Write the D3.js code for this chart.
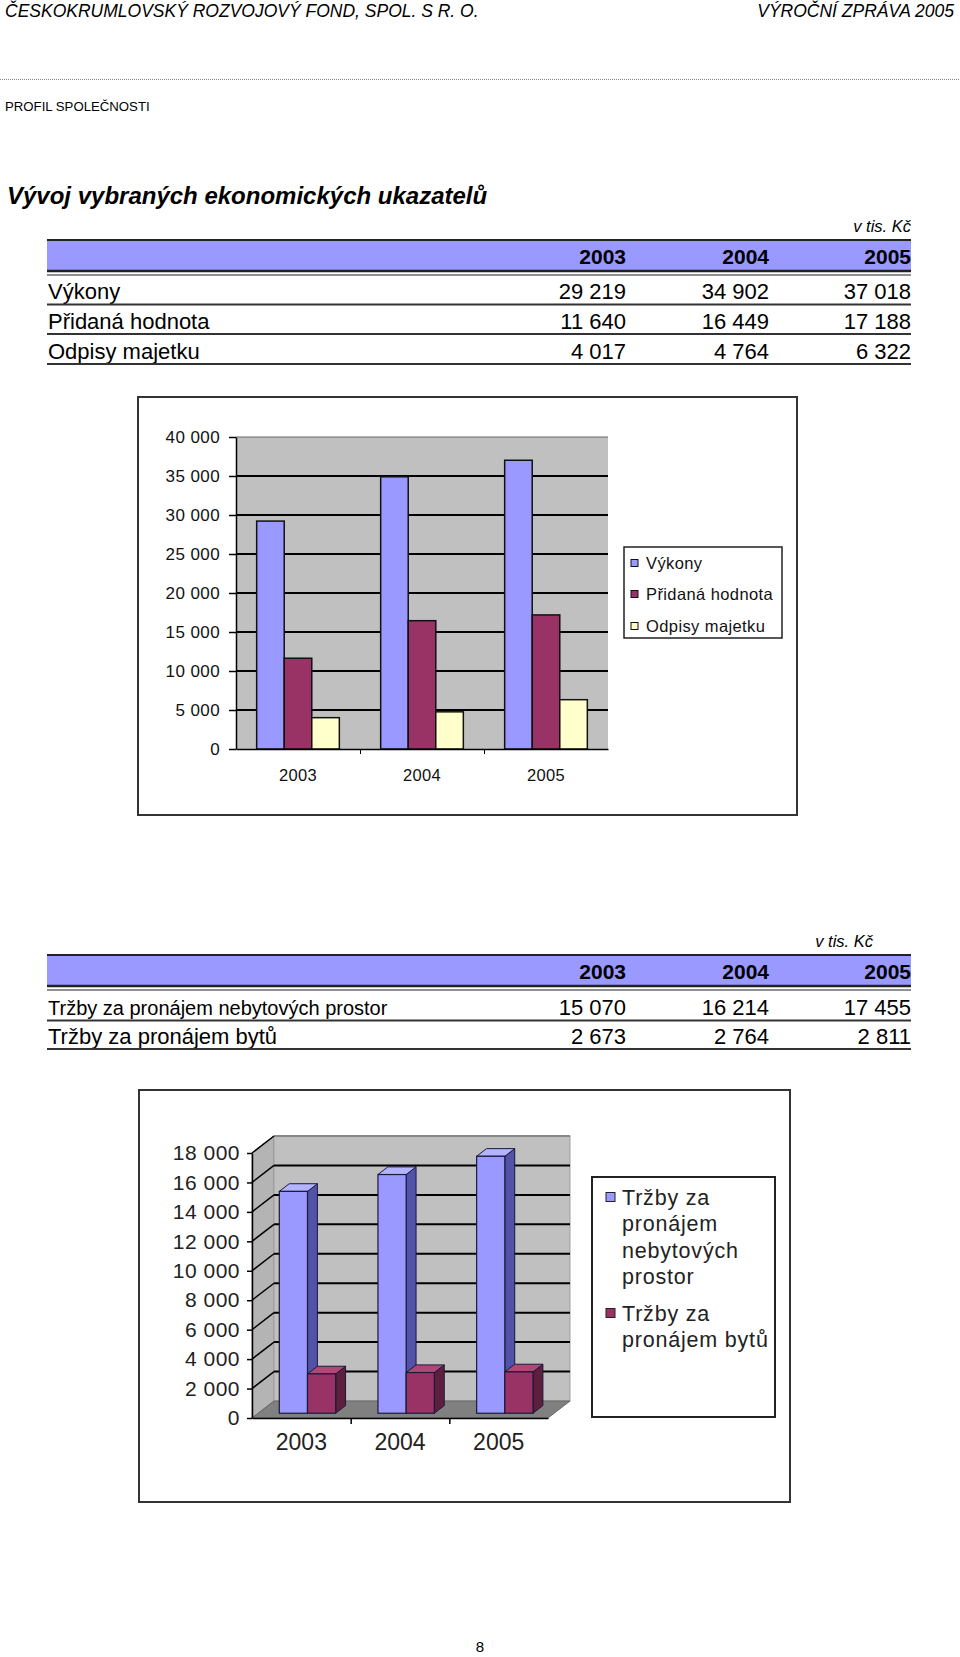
<!DOCTYPE html>
<html>
<head>
<meta charset="utf-8">
<script src="https://cdn.jsdelivr.net/npm/d3@7"></script>
<style>
body { margin: 0; background: #fff; }
svg { display: block; font-family: "Liberation Sans", Arial, sans-serif; }
</style>
</head>
<body>
<script>
var years = ["2003", "2004", "2005"];
var names1 = ["Výkony", "Přidaná hodnota", "Odpisy majetku"];
var vykony = [29219, 34902, 37018];
var pridana = [11640, 16449, 17188];
var odpisy = [4017, 4764, 6322];
var ticks1 = [0, 5000, 10000, 15000, 20000, 25000, 30000, 35000, 40000];

var names2 = ["Tržby za pronájem nebytových prostor", "Tržby za pronájem bytů"];
var nebytove = [15070, 16214, 17455];
var byty = [2673, 2764, 2811];
var ticks2 = [0, 2000, 4000, 6000, 8000, 10000, 12000, 14000, 16000, 18000];
var legend2Lines = [["Tržby za", "pronájem", "nebytových", "prostor"], ["Tržby za", "pronájem bytů"]];

var colors1 = ["#9999ff", "#993366", "#ffffcc"];
var colors2 = [
    { front: "#9999ff", side: "#5252a8", top: "#b3b3ff" },
    { front: "#993366", side: "#5e1f3f", top: "#b04876" }
];

var cz = d3.formatLocale({ decimal: ",", thousands: " ", grouping: [3], currency: ["", " Kč"] });
var fmt = cz.format(",d");

var svg = d3.select("body").append("svg")
    .attr("width", 960).attr("height", 1657)
    .attr("xmlns", "http://www.w3.org/2000/svg");

// page header
svg.append("text").attr("x", 5).attr("y", 17)
    .style("font-size", "17.5px").style("font-style", "italic")
    .text("ČESKOKRUMLOVSKÝ ROZVOJOVÝ FOND, SPOL. S R. O.");
svg.append("text").attr("x", 954).attr("y", 17).attr("text-anchor", "end")
    .style("font-size", "17.5px").style("font-style", "italic")
    .text("VÝROČNÍ ZPRÁVA 2005");
svg.append("line").attr("x1", 0).attr("x2", 960).attr("y1", 79.5).attr("y2", 79.5)
    .attr("stroke", "#888").attr("stroke-dasharray", "1,1");
svg.append("text").attr("x", 5).attr("y", 110.5).style("font-size", "13.2px")
    .text("PROFIL SPOLEČNOSTI");
svg.append("text").attr("x", 7).attr("y", 204)
    .style("font-size", "24px").style("font-weight", "bold").style("font-style", "italic")
    .text("Vývoj vybraných ekonomických ukazatelů");

// tables
var colX = [626, 769, 911];

function drawTable(top, unitX, rows, lineYs) {
    var g = svg.append("g");
    g.append("text").attr("x", unitX).attr("y", top - 8)
        .attr("text-anchor", "end").style("font-size", "16.5px").style("font-style", "italic")
        .text("v tis. Kč");
    g.append("rect").attr("x", 47).attr("y", top).attr("width", 911 - 47).attr("height", 30)
        .attr("fill", "#9999ff");
    g.append("line").attr("x1", 47).attr("x2", 911).attr("y1", top).attr("y2", top)
        .attr("stroke", "#222").attr("stroke-width", 2);
    g.append("line").attr("x1", 47).attr("x2", 911).attr("y1", top + 31).attr("y2", top + 31)
        .attr("stroke", "#222").attr("stroke-width", 2.5);
    g.append("line").attr("x1", 47).attr("x2", 911).attr("y1", top + 35).attr("y2", top + 35)
        .attr("stroke", "#222").attr("stroke-width", 1.2);
    g.selectAll(".yr").data(years).enter().append("text")
        .attr("x", function(d, i) { return colX[i]; }).attr("y", top + 23.5)
        .attr("text-anchor", "end").style("font-size", "21px").style("font-weight", "bold")
        .text(function(d) { return d; });
    rows.forEach(function(r, ri) {
        var base = lineYs[ri] - 5.5;
        g.append("text").attr("x", 48).attr("y", base).style("font-size", r.size + "px").text(r.name);
        r.values.forEach(function(v, i) {
            g.append("text").attr("x", colX[i]).attr("y", base).attr("text-anchor", "end")
                .style("font-size", "22px").text(fmt(v));
        });
        g.append("line").attr("x1", 47).attr("x2", 911).attr("y1", lineYs[ri]).attr("y2", lineYs[ri])
            .attr("stroke", "#333").attr("stroke-width", 2);
    });
}

drawTable(240, 911, [
    { name: names1[0], values: vykony, size: 22 },
    { name: names1[1], values: pridana, size: 22 },
    { name: names1[2], values: odpisy, size: 22 }
], [304.5, 334, 364]);

drawTable(955, 873, [
    { name: names2[0], values: nebytove, size: 20 },
    { name: names2[1], values: byty, size: 22 }
], [1020.5, 1049]);

// chart 1 - clustered columns
var c1 = svg.append("g");
c1.append("rect").attr("x", 138).attr("y", 397).attr("width", 659).attr("height", 418)
    .attr("fill", "#fff").attr("stroke", "#333").attr("stroke-width", 2);

var x1 = d3.scaleBand().domain(years).range([236, 608]);
var y1 = d3.scaleLinear().domain([0, 40000]).range([749, 437]);
var barW1 = x1.bandwidth() / 4.5;
var xs1 = d3.scaleBand().domain([0, 1, 2]).range([0, 3 * barW1]);
var series1 = [vykony, pridana, odpisy];

c1.append("rect").attr("x", 236).attr("y", y1(40000)).attr("width", 372).attr("height", y1(0) - y1(40000))
    .attr("fill", "#c0c0c0");
c1.selectAll(".grid").data(ticks1.slice(1)).enter().append("line")
    .attr("x1", 236).attr("x2", 608)
    .attr("y1", function(d) { return y1(d); }).attr("y2", function(d) { return y1(d); })
    .attr("stroke", function(d) { return d === 40000 ? "#666" : "#000"; })
    .attr("stroke-width", function(d) { return d === 40000 ? 1 : 2; });

series1.forEach(function(vals, s) {
    c1.selectAll(".b" + s).data(vals).enter().append("rect")
        .attr("x", function(d, i) { return x1(years[i]) + 0.75 * barW1 + xs1(s); })
        .attr("y", function(d) { return y1(d); })
        .attr("width", barW1)
        .attr("height", function(d) { return y1(0) - y1(d); })
        .attr("fill", colors1[s]).attr("stroke", "#111").attr("stroke-width", 1.5);
});

var ax1 = c1.append("g").attr("transform", "translate(236,0)")
    .call(d3.axisLeft(y1).tickValues(ticks1).tickSize(7).tickSizeOuter(0).tickPadding(9).tickFormat(fmt));
ax1.selectAll("text").style("font-size", "17px").style("font-family", "\"Liberation Sans\", Arial, sans-serif")
    .attr("fill", "#111").style("letter-spacing", "0.4px");
ax1.selectAll("line, path").attr("stroke", "#000").attr("stroke-width", 1.5);

var bx1 = c1.append("g").attr("transform", "translate(0,749)")
    .call(d3.axisBottom(x1).tickSize(0).tickPadding(20));
bx1.selectAll("text").style("font-size", "16.5px").style("font-family", "\"Liberation Sans\", Arial, sans-serif")
    .attr("fill", "#111").style("letter-spacing", "0.3px");
bx1.select("path").attr("stroke", "#000").attr("stroke-width", 1.5);
c1.append("g").attr("transform", "translate(0,749)")
    .call(d3.axisBottom(d3.scaleLinear().domain([0, 3]).range([236, 608])).tickValues([1, 2]).tickSize(5).tickFormat(""))
    .call(function(g) { g.select("path").remove(); g.selectAll("line").attr("stroke", "#000"); });

// legend 1
var lg1 = c1.append("g");
lg1.append("rect").attr("x", 624).attr("y", 547).attr("width", 158).attr("height", 91)
    .attr("fill", "#fff").attr("stroke", "#222").attr("stroke-width", 1.5);
var lgY1 = [563, 594, 626];
names1.forEach(function(n, i) {
    lg1.append("rect").attr("x", 631).attr("y", lgY1[i] - 3.5).attr("width", 7).attr("height", 7)
        .attr("fill", colors1[i]).attr("stroke", "#111").attr("stroke-width", 1);
    lg1.append("text").attr("x", 646).attr("y", lgY1[i] + 6).style("font-size", "16.5px")
        .style("letter-spacing", "0.4px").attr("fill", "#111").text(n);
});

// chart 2 - 3d columns
var c2 = svg.append("g");
c2.append("rect").attr("x", 139).attr("y", 1090).attr("width", 651).attr("height", 412)
    .attr("fill", "#fff").attr("stroke", "#333").attr("stroke-width", 2);

var depth = [22, -17];
var x2 = d3.scaleBand().domain(years).range([252, 548]);
var y2 = d3.scaleLinear().domain([0, 18000]).range([1418, 1153]);
var barW2 = x2.bandwidth() / 3.5;
var xs2 = d3.scaleBand().domain([0, 1]).range([0, 2 * barW2]);
var series2 = [nebytove, byty];
var fFront = 0.28, fDepth = 0.45;

function pts(a) { return a.map(function(p) { return p.join(","); }).join(" "); }

// walls and floor
c2.append("polygon").attr("points", pts([[252, y2(0)], [252, y2(18000)],
    [252 + depth[0], y2(18000) + depth[1]], [252 + depth[0], y2(0) + depth[1]]]))
    .attr("fill", "#b4b4b4").attr("stroke", "#888");
c2.append("rect").attr("x", 252 + depth[0]).attr("y", y2(18000) + depth[1])
    .attr("width", 296).attr("height", y2(0) - y2(18000))
    .attr("fill", "#c0c0c0").attr("stroke", "#a0a0a0");
c2.append("polygon").attr("points", pts([[252, y2(0)], [548, y2(0)],
    [548 + depth[0], y2(0) + depth[1]], [252 + depth[0], y2(0) + depth[1]]]))
    .attr("fill", "#808080").attr("stroke", "#666");

c2.selectAll(".grid2").data(ticks2.slice(1)).enter().append("line")
    .attr("x1", 252 + depth[0]).attr("x2", 548 + depth[0])
    .attr("y1", function(d) { return y2(d) + depth[1]; }).attr("y2", function(d) { return y2(d) + depth[1]; })
    .attr("stroke", function(d) { return d === 18000 ? "#888" : "#000"; }).attr("stroke-width", 2);
c2.selectAll(".diag").data(ticks2.slice(1)).enter().append("line")
    .attr("x1", 252).attr("x2", 252 + depth[0])
    .attr("y1", function(d) { return y2(d); }).attr("y2", function(d) { return y2(d) + depth[1]; })
    .attr("stroke", "#000").attr("stroke-width", 1.5);

// bars
years.forEach(function(yr, i) {
    series2.forEach(function(vals, s) {
        var v = vals[i];
        var fx = x2(yr) + 0.75 * barW2 + xs2(s) + depth[0] * fFront;
        var bottom = y2(0) + depth[1] * fFront;
        var top = y2(v) + depth[1] * fFront;
        var dx = depth[0] * fDepth, dy = depth[1] * fDepth;
        var col = colors2[s];
        c2.append("polygon").attr("points", pts([[fx + barW2, top], [fx + barW2 + dx, top + dy],
            [fx + barW2 + dx, bottom + dy], [fx + barW2, bottom]]))
            .attr("fill", col.side).attr("stroke", "#1a1a3a").attr("stroke-width", 1);
        c2.append("polygon").attr("points", pts([[fx, top], [fx + dx, top + dy],
            [fx + barW2 + dx, top + dy], [fx + barW2, top]]))
            .attr("fill", col.top).attr("stroke", "#1a1a3a").attr("stroke-width", 1);
        c2.append("rect").attr("x", fx).attr("y", top).attr("width", barW2).attr("height", bottom - top)
            .attr("fill", col.front).attr("stroke", "#1a1a3a").attr("stroke-width", 1.2);
    });
});

var ax2 = c2.append("g").attr("transform", "translate(252,0)")
    .call(d3.axisLeft(y2).tickValues(ticks2).tickSize(5).tickSizeOuter(0).tickPadding(7).tickFormat(fmt));
ax2.selectAll("text").style("font-size", "21px").style("font-family", "\"Liberation Sans\", Arial, sans-serif")
    .attr("fill", "#222").style("letter-spacing", "0.5px");
ax2.selectAll("line, path").attr("stroke", "#000").attr("stroke-width", 1.5);

var bx2 = c2.append("g").attr("transform", "translate(0,1418)")
    .call(d3.axisBottom(x2).tickSize(0).tickPadding(16));
bx2.selectAll("text").style("font-size", "23px").style("font-family", "\"Liberation Sans\", Arial, sans-serif")
    .attr("fill", "#222");
bx2.select("path").attr("stroke", "#000").attr("stroke-width", 1.5);
c2.append("g").attr("transform", "translate(0,1418)")
    .call(d3.axisBottom(d3.scaleLinear().domain([0, 3]).range([252, 548])).tickValues([1, 2]).tickSize(6).tickFormat(""))
    .call(function(g) { g.select("path").remove(); g.selectAll("line").attr("stroke", "#000").attr("stroke-width", 1.5); });

// legend 2
var lg2 = c2.append("g");
lg2.append("rect").attr("x", 592).attr("y", 1177).attr("width", 183).attr("height", 240)
    .attr("fill", "#fff").attr("stroke", "#222").attr("stroke-width", 2);
var lgY2 = [1197, 1313];
legend2Lines.forEach(function(lines, i) {
    lg2.append("rect").attr("x", 606).attr("y", lgY2[i] - 4.5).attr("width", 9).attr("height", 9)
        .attr("fill", colors2[i].front).attr("stroke", "#222").attr("stroke-width", 1);
    lines.forEach(function(t, k) {
        lg2.append("text").attr("x", 622).attr("y", lgY2[i] + 7.5 + k * 26.6)
            .style("font-size", "21.5px").style("letter-spacing", "0.8px").attr("fill", "#222").text(t);
    });
});

// page number
svg.append("text").attr("x", 480).attr("y", 1652).attr("text-anchor", "middle")
    .style("font-size", "15px").text("8");
</script>
</body>
</html>
